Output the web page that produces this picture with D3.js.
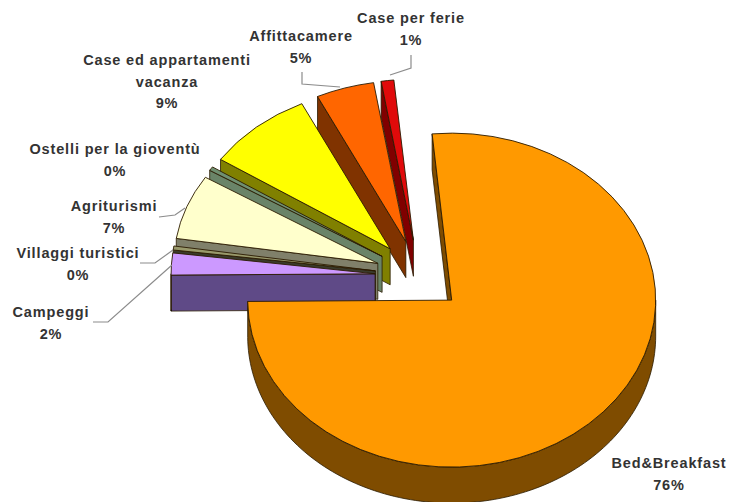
<!DOCTYPE html>
<html>
<head>
<meta charset="utf-8">
<script src="https://cdnjs.cloudflare.com/ajax/libs/d3/7.8.5/d3.min.js"></script>
<style>
  html, body { margin: 0; padding: 0; background: #fff; }
  svg { display: block; }
  text { font-family: "Liberation Sans", Arial, sans-serif; font-weight: bold; font-size: 14.5px; fill: #333; text-anchor: middle; dominant-baseline: central; letter-spacing: 0.85px; }
</style>
</head>
<body>
<svg id="chart" width="734" height="502"></svg>
<script>
// Accommodation types and their share of the total, in percent.
const categories = ["Bed&Breakfast", "Campeggi", "Villaggi turistici", "Agriturismi",
                    "Ostelli per la gioventù", "Case ed appartamenti vacanza", "Affittacamere", "Case per ferie"];
const shares = [76.4, 2.2, 0.4, 6.5, 0.4, 8.5, 4.6, 1.0];

const topColors  = ["#ff9900", "#cc99ff", "#99996b", "#ffffcc", "#6f8f70", "#ffff00", "#ff6600", "#e00a0a"];
const wallColors = ["#7f4c00", "#5f4a87", "#3a3a2a", "#80806a", "#6a8468", "#808000", "#803300", "#800000"];

// Where each label sits: centre x, first line's y, then the wrapped lines and leader.
const labelLines = [["Bed&Breakfast"], ["Campeggi"], ["Villaggi turistici"], ["Agriturismi"],
                    ["Ostelli per la gioventù"], ["Case ed appartamenti", "vacanza"], ["Affittacamere"], ["Case per ferie"]];
const labelX = [669, 51, 78, 114, 115, 167, 301, 411];
const labelY = [463, 312, 253, 206, 149, 60, 36, 18];
const lineGap = 21.5;
const leaders = [
  null,
  [[93, 322], [108, 322], [172, 265]],
  [[140, 263], [155, 263], [173, 250]],
  [[159, 217], [175, 215], [185, 208]],
  null,
  null,
  [[302, 72], [302, 84], [340, 87]],
  [[411, 55], [411, 68], [390, 75]]
];

// Pie geometry: tilted ellipse, extrusion depth and explosion distance.
// Slices further from the viewer foreshorten a little more than the near one.
const rx = 204, ryNear = 167, ryFar = 161, depth = 36, explode = 44;
const cx = 419, cy = 276;
const explodeTilt = ryNear / rx;
const startAngle = -5.5 * Math.PI / 180;

const pie = d3.pie().sort(null).startAngle(startAngle).endAngle(startAngle + 2 * Math.PI);
const slices = pie(shares).map((d, i) => {
  const mid = (d.startAngle + d.endAngle) / 2;
  return {
    ...d, i,
    ry: i === 0 ? ryNear : ryFar,
    ox: cx + explode * Math.sin(mid),
    oy: cy - explode * explodeTilt * Math.cos(mid)
  };
});

const svg = d3.select("#chart");
const arc = d3.arc().innerRadius(0).outerRadius(rx);
const polygon = d3.line().curve(d3.curveLinearClosed);
const rimPoint = (s, a, drop) => [s.ox + rx * Math.sin(a), s.oy - s.ry * Math.cos(a) + drop];

// Paint from back to front so nearer slices overlap those behind them.
const paintOrder = [7, 6, 5, 4, 3, 2, 1, 0];

paintOrder.forEach(i => {
  const s = slices[i];
  const g = svg.append("g").attr("class", "slice");

  // Cut face along the slice's leading edge.
  const edge = rimPoint(s, s.startAngle, 0);
  const edgeLow = rimPoint(s, s.startAngle, depth);
  g.append("path")
    .attr("d", polygon([[s.ox, s.oy], edge, edgeLow, [s.ox, s.oy + depth]]))
    .attr("fill", wallColors[i])
    .attr("stroke", "#2a1a00").attr("stroke-width", 0.8).attr("stroke-linejoin", "round");

  // Curved outer wall, only on the part of the rim that faces the viewer.
  const from = Math.max(s.startAngle, Math.PI / 2);
  const to = Math.min(s.endAngle, 3 * Math.PI / 2);
  if (to > from) {
    const steps = d3.range(0, 121).map(k => from + (to - from) * k / 120);
    const outline = steps.map(a => rimPoint(s, a, 0))
      .concat(steps.slice().reverse().map(a => rimPoint(s, a, depth)));
    g.append("path")
      .attr("d", polygon(outline))
      .attr("fill", wallColors[i])
      .attr("stroke", "#2a1a00").attr("stroke-width", 0.8).attr("stroke-linejoin", "round");
  }

  // Top face: a d3 arc squashed vertically by the tilt.
  g.append("path")
    .attr("transform", `translate(${s.ox},${s.oy}) scale(1,${s.ry / rx})`)
    .attr("d", arc(s))
    .attr("fill", topColors[i])
    .attr("stroke", "#2a1a00").attr("stroke-width", 0.9)
    .attr("vector-effect", "non-scaling-stroke")
    .attr("stroke-linejoin", "round");
});

// Leader lines from the outer labels to their slices.
const leaderLine = d3.line();
svg.append("g").selectAll("path")
  .data(leaders.filter(Boolean))
  .join("path")
  .attr("d", d => leaderLine(d))
  .attr("fill", "none")
  .attr("stroke", "#8c8c8c")
  .attr("stroke-width", 1.2);

// Category name above its rounded percentage.
const labels = svg.append("g");
categories.forEach((name, i) => {
  const lines = labelLines[i].concat([d3.format(".0f")(shares[i]) + "%"]);
  lines.forEach((t, k) => {
    labels.append("text")
      .attr("x", labelX[i])
      .attr("y", labelY[i] + k * lineGap)
      .text(t);
  });
});
</script>
</body>
</html>
